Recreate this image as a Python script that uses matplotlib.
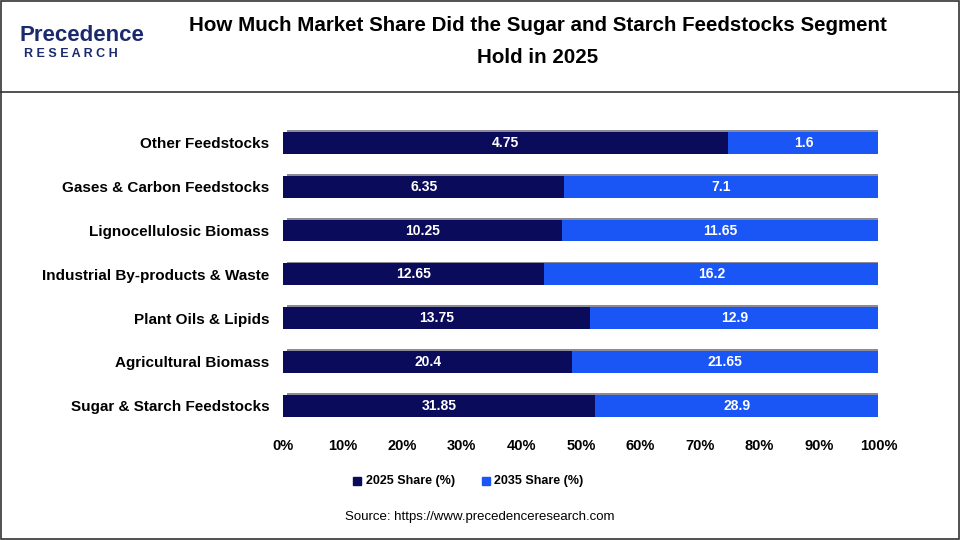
import matplotlib
matplotlib.use("Agg")
import matplotlib.pyplot as plt
import numpy as np

plt.rcParams['font.family'] = ['Liberation Sans', 'DejaVu Sans']

categories = ["Other Feedstocks", "Gases & Carbon Feedstocks", "Lignocellulosic Biomass",
              "Industrial By-products & Waste", "Plant Oils & Lipids", "Agricultural Biomass",
              "Sugar & Starch Feedstocks"]
share_2025 = [4.75, 6.35, 10.25, 12.65, 13.75, 20.4, 31.85]
share_2035 = [1.6, 7.1, 11.65, 16.2, 12.9, 21.65, 28.9]

c1, c2 = "#0b0b5c", "#1a56f5"
fig = plt.figure(figsize=(9.6, 5.4), dpi=100)
fig.patch.set_facecolor("white")
ax = fig.add_axes([0.295, 0.2, 0.62, 0.58])

a = np.array(share_2025); b = np.array(share_2035)
p1 = a / (a + b) * 100
p2 = b / (a + b) * 100
y = np.arange(len(categories))[::-1]
h = 0.5
ax.barh(y + 0.04, [100]*len(y), left=0.6, height=h, color="#8a8a98", zorder=1)
ax.barh(y, p1, height=h, color=c1, zorder=2)
ax.barh(y, p2, left=p1, height=h, color=c2, zorder=2)
for yi, v1, v2, s1, s2 in zip(y, p1, p2, a, b):
    ax.text(v1 / 2, yi, f"{s1:g}", color="white", ha="center", va="center", fontsize=10, fontweight="bold", zorder=3)
    ax.text(v1 + v2 / 2, yi, f"{s2:g}", color="white", ha="center", va="center", fontsize=10, fontweight="bold", zorder=3)

ax.set_xlim(0, 100)
ax.set_ylim(-0.6, len(y) - 0.45)
ax.set_yticks(y)
ax.set_yticklabels(categories, fontsize=11, fontweight="bold")
ax.set_xticks(np.arange(0, 101, 10))
ax.set_xticklabels([f"{t}%" for t in range(0, 101, 10)], fontsize=10.5, fontweight="bold")
ax.tick_params(length=0, pad=10)
ax.tick_params(axis="x", pad=5)
for s in ax.spines.values():
    s.set_visible(False)

fig.text(0.56, 0.952, "How Much Market Share Did the Sugar and Starch Feedstocks Segment", ha="center", va="center", fontsize=14.8, fontweight="bold")
fig.text(0.56, 0.893, "Hold in 2025", ha="center", va="center", fontsize=14.8, fontweight="bold")
fig.add_artist(plt.Line2D([0, 1], [0.83, 0.83], color="#333333", lw=1.2))
fig.add_artist(plt.Rectangle((0.001, 0.001), 0.998, 0.998, fill=False, ec="#333333", lw=1.2))
fig.text(0.02, 0.935, "Precedence", fontsize=16, fontweight="bold", color="#1a2a6c", va="center")
fig.text(0.025, 0.9, "R E S E A R C H", fontsize=9, fontweight="bold", color="#1a2a6c", va="center")

fig.add_artist(plt.Rectangle((0.368, 0.101), 0.008, 0.016, color=c1))
fig.text(0.381, 0.109, "2025 Share (%)", fontsize=9, fontweight="bold", va="center")
fig.add_artist(plt.Rectangle((0.502, 0.101), 0.008, 0.016, color=c2))
fig.text(0.515, 0.109, "2035 Share (%)", fontsize=9, fontweight="bold", va="center")
fig.text(0.5, 0.042, "Source: https://www.precedenceresearch.com", ha="center", va="center", fontsize=9.5)

fig.savefig("out.png", dpi=100)
